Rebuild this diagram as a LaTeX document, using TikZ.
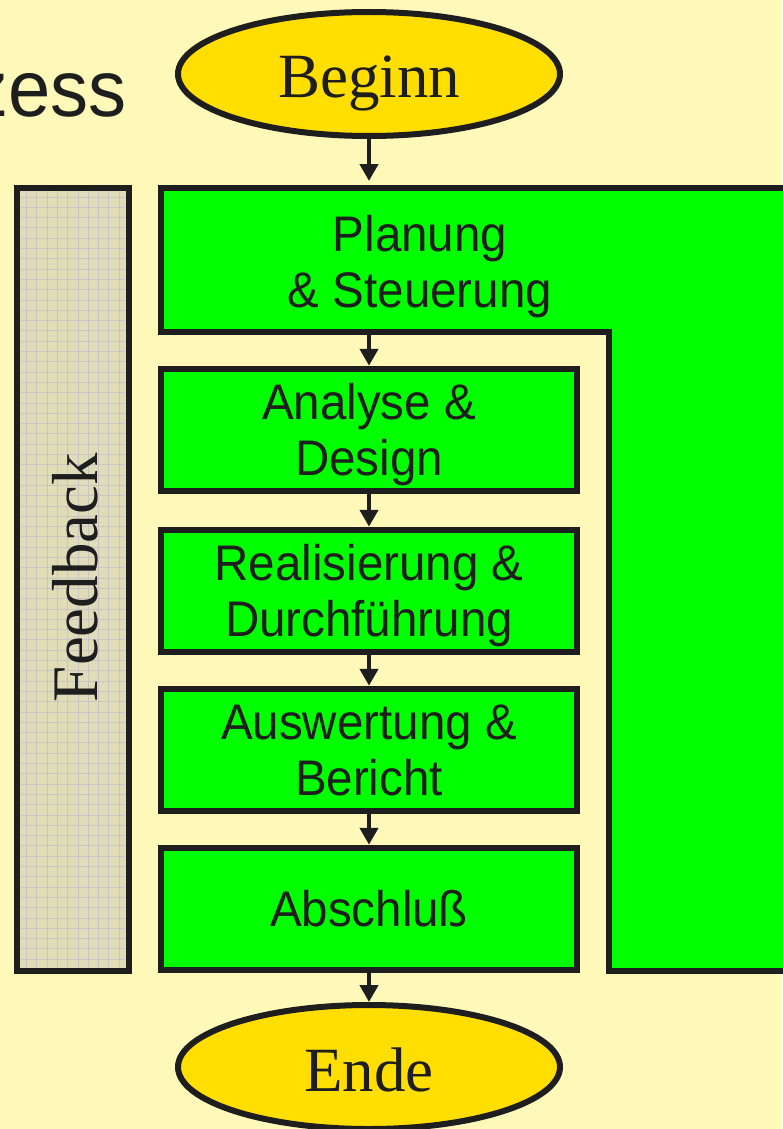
\documentclass[tikz,border=0pt]{standalone}
\usepackage{fontspec}
\setmainfont{Liberation Sans}
\newfontfamily\boxfont[FakeStretch=0.95]{Liberation Sans}
\newfontfamily\titlefont{Liberation Serif}
\usetikzlibrary{shapes.geometric,arrows.meta}

\definecolor{bg}{RGB}{255,249,185}
\definecolor{gold}{RGB}{255,222,0}
\definecolor{leaf}{RGB}{0,255,0}
\definecolor{ink}{RGB}{30,30,30}
\definecolor{paper}{RGB}{224,220,184}
\definecolor{gridline}{RGB}{200,197,196}

\begin{document}
\begin{tikzpicture}[x=1pt,y=-1pt,
  twolines/.style={text height=92pt, text depth=1pt},
  oneline/.style={text height=36pt, text depth=1pt},
  stage/.style={draw=ink, line width=6pt, fill=leaf, minimum width=416.5pt,
    minimum height=122.5pt, inner sep=0pt, align=center, twolines,
    font=\boxfont\fontsize{50}{56}\selectfont},
  terminal/.style={ellipse, draw=ink, line width=6pt, fill=gold,
    minimum width=382pt, minimum height=124pt, inner sep=0pt,
    font=\titlefont\fontsize{63}{70}\selectfont, text height=48pt, text depth=0pt},
  flow/.style={draw=ink, line width=4.5pt, -{Triangle[width=18pt,length=17pt]}}]

% page background
\fill[bg] (0,0) rectangle (782,1129);
\useasboundingbox (0,0) rectangle (782,1129);

% heading fragment at the left edge
\node[anchor=base east, inner sep=0pt, text=ink,
  font=\boxfont\fontsize{80}{90}\selectfont] (heading) at (127,117) {zess};

% feedback column with its grid texture
\node[draw=ink, line width=6pt, fill=paper, minimum width=112pt,
  minimum height=783pt, inner sep=0pt] (feedback) at (73,579.5) {};
\begin{scope}
  \clip (20.5,191.5) rectangle (125.5,967.5);
  \foreach \gx in {0,...,10} \draw[gridline, line width=1pt] (26.5+10.3*\gx,191) -- (26.5+10.3*\gx,968);
  \foreach \gy in {0,...,75} \draw[gridline, line width=1pt] (20,197+10.3*\gy) -- (126,197+10.3*\gy);
\end{scope}
\node[rotate=90, anchor=base, inner sep=0pt, text=ink,
  font=\titlefont\fontsize{65}{70}\selectfont] (feedbackLabel) at (97,577.5) {Feedback};

% planning and control frame around the phases
\draw[ink, line width=6pt, fill=leaf, line join=miter]
  (161,188) -- (800,188) -- (800,971) -- (608.5,971) -- (608.5,332) -- (161,332) -- cycle;
\coordinate (planTop) at (369,181);
\coordinate (planBottom) at (369,335);
\node[align=center, inner sep=0pt, text=ink, twolines,
  font=\boxfont\fontsize{50}{56}\selectfont] (planLabel) at (420,261.5) {Planung\\\& Steuerung};

% start and end
\node[terminal, text=ink] (beginn) at (369,74) {Beginn};
\node[terminal, text=ink] (ende) at (369,1067) {Ende};

% phases
\node[stage, text=ink] (analyse) at (369,430) {Analyse \&\\Design};
\node[stage, text=ink] (real) at (369,591) {Realisierung \&\\Durchführung};
\node[stage, text=ink] (auswertung) at (369,750) {Auswertung \&\\Bericht};
\node[stage, text=ink, oneline] (abschluss) at (369,909) {Abschluß};

% flow
\draw[flow] (beginn.south) -- (planTop);
\draw[flow] (planBottom) -- (analyse.north);
\draw[flow] (analyse.south) -- (real.north);
\draw[flow] (real.south) -- (auswertung.north);
\draw[flow] (auswertung.south) -- (abschluss.north);
\draw[flow] (abschluss.south) -- (ende.north);
\end{tikzpicture}
\end{document}
